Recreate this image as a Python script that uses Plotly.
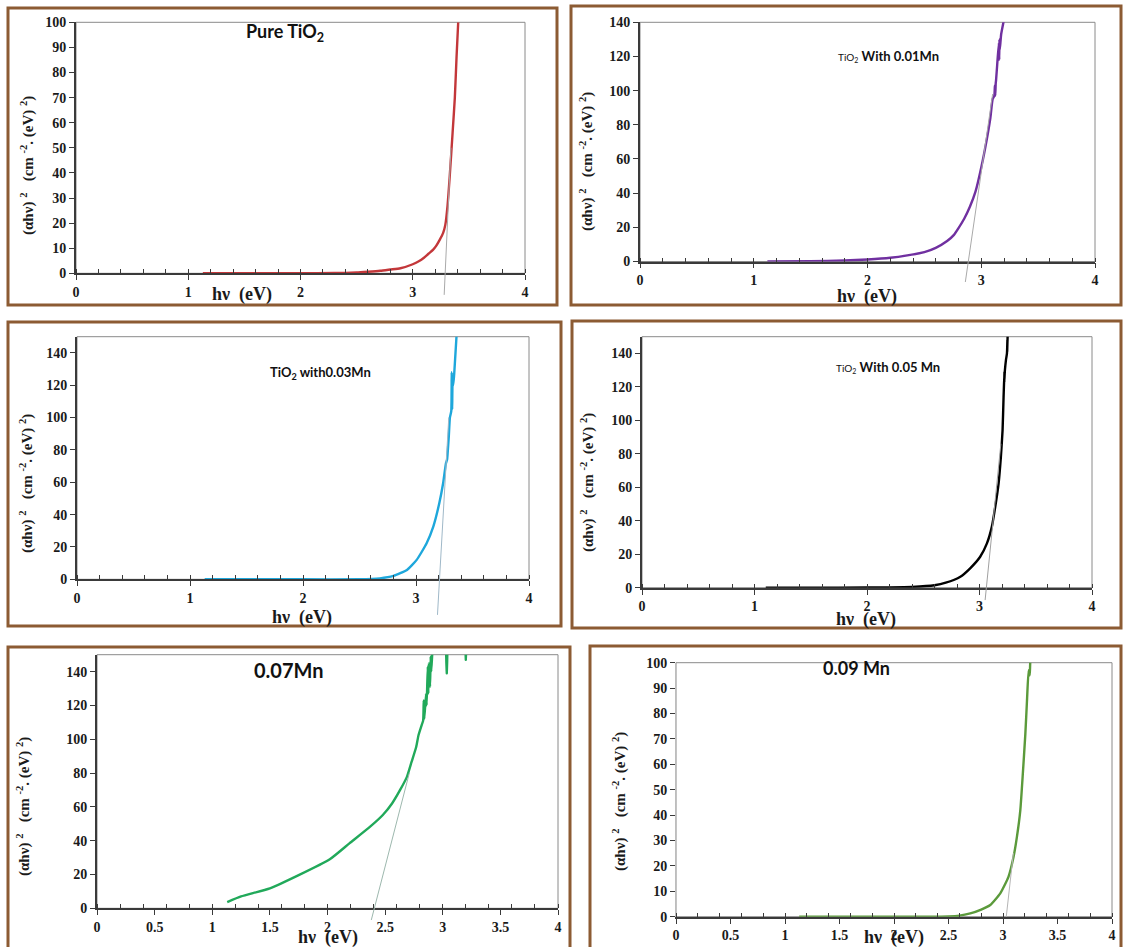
import plotly.graph_objects as go

W, H = 1123, 947

# ---------------- data ----------------
# Panel 1: Pure TiO2
x_pure = [1.13, 1.5, 2.0, 2.3, 2.5, 2.6, 2.71, 2.80, 2.89, 3.00, 3.05, 3.10, 3.14, 3.18, 3.21, 3.24, 3.27, 3.29, 3.31, 3.33, 3.355, 3.375, 3.39, 3.405]
y_pure = [0, 0, 0, 0.1, 0.3, 0.6, 1.0, 1.5, 2.0, 3.6, 4.7, 6.2, 7.8, 9.3, 11, 13.3, 16, 19.3, 27, 39, 56, 70, 86, 100]
tan_pure_x = [3.28, 3.34]
tan_pure_y = [-8.6, 50]

# Panel 2: TiO2 with 0.01 Mn
x_mn01 = [1.12, 1.5, 1.8, 2.0, 2.2, 2.35, 2.5, 2.6, 2.7, 2.76, 2.8, 2.85, 2.9, 2.95, 3.0, 3.05, 3.08, 3.10, 3.115, 3.12, 3.123, 3.127, 3.13, 3.14, 3.155, 3.158, 3.16, 3.163, 3.175, 3.195, 3.21]
y_mn01 = [0, 0.2, 0.6, 1.2, 2.2, 3.6, 5.5, 8, 12, 15.6, 19.5, 25, 32, 41, 55, 72, 84, 95, 97, 103, 97, 104, 106, 115, 128, 118, 130, 124, 133, 140, 145]
tan_mn01_x = [2.86, 3.10]
tan_mn01_y = [-12, 98]

# Panel 3: TiO2 with 0.03 Mn
x_mn03 = [1.13, 1.5, 2.0, 2.5, 2.68, 2.80, 2.92, 3.006, 3.094, 3.153, 3.206, 3.24, 3.265, 3.275, 3.28, 3.29, 3.30, 3.312, 3.316, 3.32, 3.324, 3.33, 3.34, 3.36]
y_mn03 = [0, 0, 0, 0, 0.6, 2.1, 5.8, 12, 22.3, 32.6, 47, 59.4, 71.7, 74, 78, 88, 100, 104, 128, 105, 122, 120, 129, 152]
tan_mn03_x = [3.19, 3.29]
tan_mn03_y = [-22, 100]

# Panel 4: TiO2 with 0.05 Mn
x_mn05 = [1.1, 1.5, 2.0, 2.2, 2.4, 2.6, 2.7, 2.83, 2.917, 3.006, 3.066, 3.11, 3.14, 3.17, 3.19, 3.205, 3.214, 3.218, 3.222, 3.220, 3.226, 3.235, 3.244, 3.248, 3.246, 3.25, 3.255]
y_mn05 = [0, 0, 0.1, 0.2, 0.5, 1.5, 3, 6.6, 11.6, 18.5, 26.5, 36.5, 48.4, 62.4, 78, 94, 114, 122, 129, 123, 130, 136, 140, 148, 141, 150, 155]
tan_mn05_x = [3.05, 3.19]
tan_mn05_y = [-7.4, 86]

# Panel 5: 0.07 Mn
x_mn07 = [1.13, 1.25, 1.5, 1.75, 2.02, 2.19, 2.37, 2.48, 2.56, 2.63, 2.69, 2.73, 2.77, 2.79, 2.82, 2.83, 2.835, 2.84, 2.855, 2.86, 2.87, 2.875, 2.88, 2.89, 2.895, 2.90, 2.91, 2.92, 3.03, 3.035, 3.04, 3.195, 3.20, 3.205, 3.3]
y_mn07 = [3.7, 7, 11.8, 19.6, 29, 38.4, 48.3, 55.2, 62, 70, 77.9, 86.7, 95.6, 102.5, 109, 111, 123, 112, 127, 120, 143, 127, 145, 131, 149, 140, 152, 160, 160, 139, 160, 160, 147, 160, 160]
tan_mn07_x = [2.38, 2.71]
tan_mn07_y = [-6.9, 80]

# Panel 6: 0.09 Mn
x_mn09 = [1.13, 1.5, 2.0, 2.3, 2.5, 2.6, 2.7, 2.8, 2.883, 2.975, 3.05, 3.097, 3.128, 3.159, 3.18, 3.205, 3.22, 3.235, 3.245, 3.25, 3.255]
y_mn09 = [0, 0, 0, 0, 0.1, 0.4, 1.3, 2.8, 4.6, 9.2, 15.7, 23.6, 31.5, 42, 55, 72, 85, 97, 95, 100, 101]
tan_mn09_x = [3.03, 3.095]
tan_mn09_y = [0, 25]

titles = ["<b>Pure TiO<sub>2</sub></b>",
          "<span style='font-size:10px'>TiO<sub>2</sub></span> <b>With 0.01Mn</b>",
          "<b>TiO<sub>2</sub> with0.03Mn</b>",
          "<span style='font-size:10px'>TiO<sub>2</sub></span> <b>With 0.05 Mn</b>",
          "<b>0.07Mn</b>",
          "<b>0.09 Mn</b>"]
ytitle = "(αhν) <sup>2</sup>   (cm <sup>-2</sup>. (eV) <sup>2</sup>)"
xtitle = "hν  (eV)"

xt_int = [0, 1, 2, 3, 4]
xt_half = [0, 0.5, 1, 1.5, 2, 2.5, 3, 3.5, 4]
xt_half_text = ["0", "0.5", "1", "1.5", "2", "2.5", "3", "3.5", "4"]

# ---------------- layout config ----------------
def px(x):
    return x / W

def py(y):
    return 1 - y / H

EXT = 40  # px of extra room below the x-axis for the tangent lines

panels = [
    dict(x=x_pure, y=y_pure, tx=tan_pure_x, ty=tan_pure_y, color="#C3373A", tcol="#A9A9A9",
         dom=(76, 525, 22.3, 273.3), yr=100, dy=10, half=False,
         frame=(8, 557, 8, 305), title=(285, 32, 18), ytl=(27, 166), xtl=(242, 294), lcol="#3a3a3a"),
    dict(x=x_mn01, y=y_mn01, tx=tan_mn01_x, ty=tan_mn01_y, color="#7030A0", tcol="#A9A9A9",
         dom=(640, 1095, 22.3, 261.5), yr=140, dy=20, half=False,
         frame=(571, 1121, 6, 305), title=(888, 56, 13), ytl=(587, 162), xtl=(867, 296), lcol="#3a3a3a"),
    dict(x=x_mn03, y=y_mn03, tx=tan_mn03_x, ty=tan_mn03_y, color="#1EA7DB", tcol="#9FB8C8",
         dom=(77, 529, 336.7, 579.3), yr=150, dy=20, half=False,
         frame=(8, 561, 322, 626), title=(320, 373, 13), ytl=(26, 484), xtl=(302, 617), lcol="#3a3a3a"),
    dict(x=x_mn05, y=y_mn05, tx=tan_mn05_x, ty=tan_mn05_y, color="#000000", tcol="#A0A0A0",
         dom=(642, 1092, 336.7, 587.7), yr=150, dy=20, half=False,
         frame=(572, 1121, 321, 628), title=(888, 367, 13), ytl=(587, 483), xtl=(866, 619), lcol="#3a3a3a"),
    dict(x=x_mn07, y=y_mn07, tx=tan_mn07_x, ty=tan_mn07_y, color="#21A95A", tcol="#9DB8AE",
         dom=(97, 558, 654.7, 908.3), yr=150, dy=20, half=True,
         frame=(8, 570, 647, 952), title=(289, 670, 20), ytl=(23, 807), xtl=(328, 937), lcol="#3a3a3a"),
    dict(x=x_mn09, y=y_mn09, tx=tan_mn09_x, ty=tan_mn09_y, color="#5B9A3B", tcol="#B5B5B5",
         dom=(676, 1112, 662.7, 916.7), yr=100, dy=10, half=True,
         frame=(590, 1121, 646, 952), title=(856, 668, 18), ytl=(619, 802), xtl=(894, 937), lcol="#3a3a3a"),
]

fig = go.Figure()
serif = "Liberation Serif"
sans = "Lato"
tickfont = dict(family=serif, size=14, color="#1a1a1a", weight="bold")

shapes = []
annotations = []
layout_axes = {}
NP = len(panels)

for i, p in enumerate(panels):
    n = i + 1
    xa = "x" if n == 1 else f"x{n}"
    ya = "y" if n == 1 else f"y{n}"
    m = n + NP  # overlay axes for the tangent line (extends below the x-axis)
    xo, yo = f"x{m}", f"y{m}"
    x0, x1, yt, yb = p["dom"]
    ppu = (yb - yt) / p["yr"]
    ext = min(EXT, H - yb - 1)

    fig.add_trace(go.Scatter(x=p["x"], y=p["y"], mode="lines", xaxis=xa, yaxis=ya,
                             line=dict(color=p["color"], width=2.4, shape="spline", smoothing=0.5),
                             showlegend=False))
    fig.add_trace(go.Scatter(x=p["tx"], y=p["ty"], mode="lines", xaxis=xo, yaxis=yo,
                             line=dict(color=p["tcol"], width=1), showlegend=False, hoverinfo="skip"))

    xkey = "xaxis" if n == 1 else f"xaxis{n}"
    ykey = "yaxis" if n == 1 else f"yaxis{n}"
    xaxis = dict(domain=[px(x0), px(x1)], anchor=ya, range=[0, 4], showgrid=False, zeroline=False,
                 showline=True, linecolor=p["lcol"], linewidth=1.8, automargin=False,
                 ticks="outside", ticklen=5, tickwidth=1.3, tickcolor=p["lcol"],
                 tickfont=tickfont, fixedrange=True,
                 minor=dict(dtick=0.2, tick0=0, ticks="inside", ticklen=4, tickwidth=1.3, tickcolor=p["lcol"]))
    if p["half"]:
        xaxis.update(tickmode="array", tickvals=xt_half, ticktext=xt_half_text)
    else:
        xaxis.update(tickmode="array", tickvals=xt_int, ticktext=[str(v) for v in xt_int])
    yaxis = dict(domain=[py(yb), py(yt)], anchor=xa, range=[0, p["yr"]], dtick=p["dy"], tick0=0,
                 showgrid=False, zeroline=False, showline=True, automargin=False,
                 linecolor=("#bdbdbd" if n == 6 else p["lcol"]), linewidth=(1 if n == 6 else 1.8),
                 ticks="outside", ticklen=5, tickwidth=1.3, tickcolor=p["lcol"],
                 tickfont=tickfont, fixedrange=True)
    layout_axes[xkey] = xaxis
    layout_axes[ykey] = yaxis
    layout_axes[f"xaxis{m}"] = dict(domain=[px(x0), px(x1)], anchor=yo, range=[0, 4], visible=False,
                                    fixedrange=True)
    layout_axes[f"yaxis{m}"] = dict(domain=[py(yb + ext), py(yt)], anchor=xo,
                                    range=[-ext / ppu, p["yr"]], visible=False, fixedrange=True)

    shapes.append(dict(type="rect", xref=f"{xa} domain", yref=f"{ya} domain", x0=0, x1=1, y0=0, y1=1,
                       line=dict(color="#8a8a8a", width=1), layer="below"))
    fx0, fx1, fy0, fy1 = p["frame"]
    shapes.append(dict(type="rect", xref="paper", yref="paper", x0=px(fx0), x1=px(fx1), y0=py(fy1), y1=py(fy0),
                       line=dict(color="#8C5B33", width=3)))
    tx, ty, ts = p["title"]
    annotations.append(dict(text=titles[i], x=px(tx), y=py(ty), xref="paper", yref="paper",
                            showarrow=False, xanchor="center", yanchor="middle",
                            font=dict(family=sans, size=ts, color="#111111")))
    yx, yy = p["ytl"]
    annotations.append(dict(text=ytitle, x=px(yx), y=py(yy), xref="paper", yref="paper", textangle=-90,
                            showarrow=False, xanchor="center", yanchor="middle",
                            font=dict(family=serif, size=15, color="#1a1a1a", weight="bold")))
    xx, xy = p["xtl"]
    annotations.append(dict(text=xtitle, x=px(xx), y=py(xy), xref="paper", yref="paper",
                            showarrow=False, xanchor="center", yanchor="middle",
                            font=dict(family=serif, size=18, color="#1a1a1a", weight="bold")))

fig.update_layout(width=W, height=H, margin=dict(l=0, r=0, t=0, b=0, pad=0, autoexpand=False),
                  paper_bgcolor="white", plot_bgcolor="rgba(0,0,0,0)",
                  shapes=shapes, annotations=annotations, **layout_axes)

fig.write_html("out.html", config={"displayModeBar": False},
               post_script="document.body.style.margin='0';")
